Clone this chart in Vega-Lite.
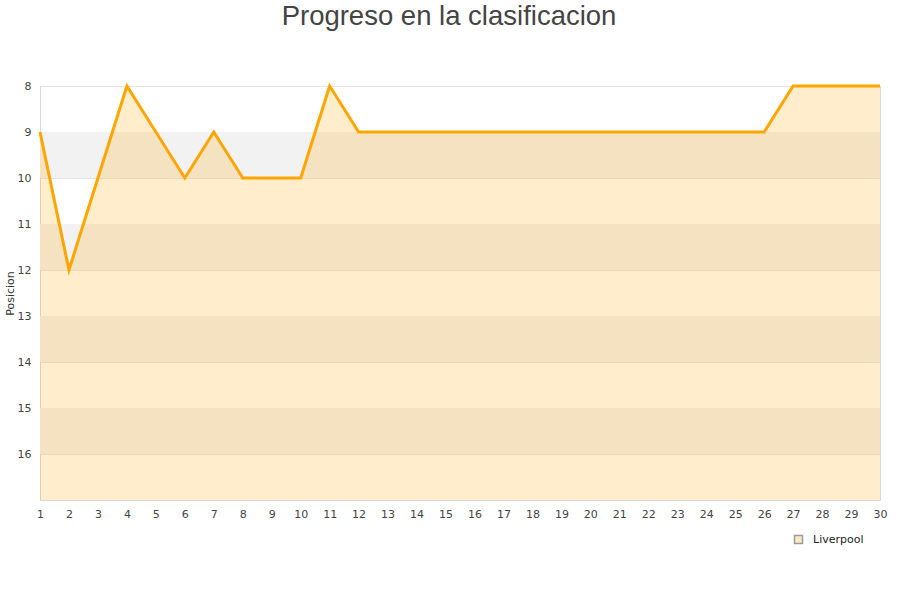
{
  "$schema": "https://vega.github.io/schema/vega-lite/v6.json",
  "autosize": "none",
  "width": 840,
  "height": 414,
  "padding": {"left": 40, "top": 86, "right": 20, "bottom": 100},
  "background": "white",
  "title": {
    "text": "Progreso en la clasificacion",
    "anchor": "middle",
    "dx": -11,
    "offset": 50,
    "font": "Liberation Sans",
    "fontSize": 27.5,
    "fontWeight": "normal",
    "color": "#444444"
  },
  "config": {
    "view": {"stroke": "#d9d9d9", "strokeWidth": 1},
    "axis": {
      "labelFont": "DejaVu Sans",
      "labelFontSize": 11,
      "labelColor": "#444444",
      "titleFont": "DejaVu Sans",
      "titleFontSize": 11,
      "titleFontWeight": "normal",
      "titleColor": "#333333",
      "domain": false,
      "ticks": false
    },
    "legend": {
      "labelFont": "DejaVu Sans",
      "labelFontSize": 11,
      "labelColor": "#222222"
    }
  },
  "datasets": {
    "posiciones": [
      {"jornada": 1, "posicion": 9, "equipo": "Liverpool"},
      {"jornada": 2, "posicion": 12, "equipo": "Liverpool"},
      {"jornada": 3, "posicion": 10, "equipo": "Liverpool"},
      {"jornada": 4, "posicion": 8, "equipo": "Liverpool"},
      {"jornada": 5, "posicion": 9, "equipo": "Liverpool"},
      {"jornada": 6, "posicion": 10, "equipo": "Liverpool"},
      {"jornada": 7, "posicion": 9, "equipo": "Liverpool"},
      {"jornada": 8, "posicion": 10, "equipo": "Liverpool"},
      {"jornada": 9, "posicion": 10, "equipo": "Liverpool"},
      {"jornada": 10, "posicion": 10, "equipo": "Liverpool"},
      {"jornada": 11, "posicion": 8, "equipo": "Liverpool"},
      {"jornada": 12, "posicion": 9, "equipo": "Liverpool"},
      {"jornada": 13, "posicion": 9, "equipo": "Liverpool"},
      {"jornada": 14, "posicion": 9, "equipo": "Liverpool"},
      {"jornada": 15, "posicion": 9, "equipo": "Liverpool"},
      {"jornada": 16, "posicion": 9, "equipo": "Liverpool"},
      {"jornada": 17, "posicion": 9, "equipo": "Liverpool"},
      {"jornada": 18, "posicion": 9, "equipo": "Liverpool"},
      {"jornada": 19, "posicion": 9, "equipo": "Liverpool"},
      {"jornada": 20, "posicion": 9, "equipo": "Liverpool"},
      {"jornada": 21, "posicion": 9, "equipo": "Liverpool"},
      {"jornada": 22, "posicion": 9, "equipo": "Liverpool"},
      {"jornada": 23, "posicion": 9, "equipo": "Liverpool"},
      {"jornada": 24, "posicion": 9, "equipo": "Liverpool"},
      {"jornada": 25, "posicion": 9, "equipo": "Liverpool"},
      {"jornada": 26, "posicion": 9, "equipo": "Liverpool"},
      {"jornada": 27, "posicion": 8, "equipo": "Liverpool"},
      {"jornada": 28, "posicion": 8, "equipo": "Liverpool"},
      {"jornada": 29, "posicion": 8, "equipo": "Liverpool"},
      {"jornada": 30, "posicion": 8, "equipo": "Liverpool"}
    ],
    "franjas": [
      {"desde": 9, "hasta": 10},
      {"desde": 11, "hasta": 12},
      {"desde": 13, "hasta": 14},
      {"desde": 15, "hasta": 16}
    ],
    "leyenda": []
  },
  "layer": [
    {
      "data": {"name": "franjas"},
      "mark": {"type": "rect", "color": "#f2f2f2"},
      "encoding": {
        "y": {
          "field": "desde",
          "type": "quantitative",
          "scale": {"domain": [8, 17], "reverse": true, "nice": false, "zero": false},
          "axis": {
            "title": "Posicion",
            "values": [8, 9, 10, 11, 12, 13, 14, 15, 16],
            "grid": true,
            "gridColor": "#e3e3e3",
            "labelPadding": 9,
            "titlePadding": 2
          }
        },
        "y2": {"field": "hasta"}
      }
    },
    {
      "data": {"name": "posiciones"},
      "mark": {"type": "area", "color": "#FFA500", "opacity": 0.2},
      "encoding": {
        "x": {
          "field": "jornada",
          "type": "quantitative",
          "scale": {"domain": [1, 30], "nice": false, "zero": false},
          "axis": {
            "title": null,
            "values": [1, 2, 3, 4, 5, 6, 7, 8, 9, 10, 11, 12, 13, 14, 15, 16, 17, 18, 19, 20, 21, 22, 23, 24, 25, 26, 27, 28, 29, 30],
            "tickCount": 30,
            "grid": false,
            "labelPadding": 8,
            "labelOverlap": false,
            "labelFlush": false,
            "labelBound": false,
            "labelSeparation": 0
          }
        },
        "y": {"field": "posicion", "type": "quantitative"},
        "y2": {"datum": 17}
      }
    },
    {
      "data": {"name": "posiciones"},
      "mark": {"type": "line", "color": "#FFA500", "strokeWidth": 3},
      "encoding": {
        "x": {
          "field": "jornada",
          "type": "quantitative",
          "axis": {
            "title": null,
            "values": [1, 2, 3, 4, 5, 6, 7, 8, 9, 10, 11, 12, 13, 14, 15, 16, 17, 18, 19, 20, 21, 22, 23, 24, 25, 26, 27, 28, 29, 30],
            "tickCount": 30,
            "grid": false,
            "labelPadding": 8,
            "labelOverlap": false,
            "labelFlush": false,
            "labelBound": false,
            "labelSeparation": 0
          }
        },
        "y": {"field": "posicion", "type": "quantitative"}
      }
    },
    {
      "data": {"name": "leyenda"},
      "mark": {"type": "square", "filled": true, "stroke": "#9a9a9a", "strokeWidth": 1, "opacity": 1},
      "encoding": {
        "color": {
          "field": "equipo",
          "type": "nominal",
          "scale": {"domain": ["Liverpool"], "range": ["#fde8c4"]},
          "legend": {
            "title": null,
            "orient": "none",
            "legendX": 753,
            "legendY": 448,
            "symbolType": "square",
            "symbolSize": 64,
            "labelOffset": 9
          }
        }
      }
    }
  ]
}
